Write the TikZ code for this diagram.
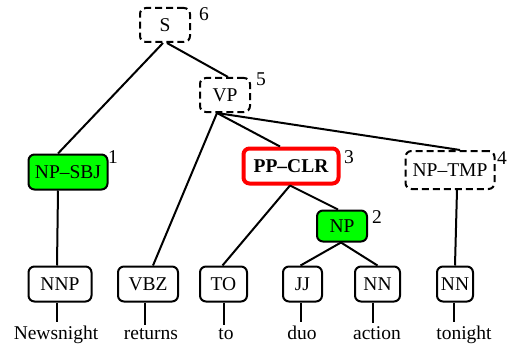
\documentclass[tikz,border=0pt]{standalone}
\usepackage{fontspec}
\setmainfont{Liberation Serif}
\begin{document}
\begin{tikzpicture}[x=1pt,y=-1pt,
  lbl/.style={font=\fontsize{19.5}{22}\selectfont},
  cat/.style={lbl, draw, line width=2pt, rounded corners=6pt, inner sep=0pt,
              minimum height=35pt},
  dashbox/.style={cat, dash pattern=on 7pt off 4pt},
  greenbox/.style={cat, fill=green},
  redbox/.style={cat, draw=red, line width=4pt, font=\fontsize{19.5}{22}\selectfont\bfseries},
  word/.style={lbl, inner xsep=0pt, inner ysep=3pt, anchor=base},
  num/.style={lbl, inner sep=0pt},
  edge/.style={line width=2pt}]

\fill[white] (0,0) rectangle (509,345);
\useasboundingbox (0,0) rectangle (509,345);

% phrase nodes
\node[dashbox, minimum width=50pt, minimum height=34pt] (S) at (165,25) {S};
\node[dashbox, minimum width=50pt, minimum height=34pt] (VP) at (225,95) {VP};
\node[greenbox, minimum width=79pt] (NPSBJ) at (68,172) {NP--SBJ};
\node[redbox, minimum width=95pt, minimum height=35pt] (PPCLR) at (291,166) {PP--CLR};
\node[dashbox, minimum width=89pt, minimum height=38pt] (NPTMP) at (450,170) {NP--TMP};
\node[greenbox, minimum width=50pt, minimum height=31pt] (NP) at (342,226) {NP};

% index numbers
\node[num] (n6) at (204,14) {6};
\node[num] (n5) at (261,79) {5};
\node[num] (n1) at (113,157) {1};
\node[num] (n3) at (349,157) {3};
\node[num] (n4) at (502,158) {4};
\node[num] (n2) at (377,217) {2};

% part-of-speech nodes
\node[cat, minimum width=63pt] (NNP) at (60,284) {NNP};
\node[cat, minimum width=60pt] (VBZ) at (148,284) {VBZ};
\node[cat, minimum width=47pt] (TO) at (223.5,284) {TO};
\node[cat, minimum width=39pt] (JJ) at (302.5,284) {JJ};
\node[cat, minimum width=45pt] (NNa) at (377.5,284) {NN};
\node[cat, minimum width=36pt] (NNb) at (455,284) {NN};

% words
\node[word] (w1) at (56,339) {Newsnight};
\node[word] (w2) at (151,339) {returns};
\node[word] (w3) at (226,339) {to};
\node[word] (w4) at (302,339) {duo};
\node[word] (w5) at (377,339) {action};
\node[word] (w6) at (464,339) {tonight};

% tree edges
\draw[edge] ([xshift=-2pt]S.south) -- ([xshift=-10pt]NPSBJ.north);
\draw[edge] ([xshift=2pt]S.south) -- ([xshift=3pt]VP.north);
\draw[edge] ([xshift=-8pt]VP.south) -- ([xshift=5pt]VBZ.north);
\draw[edge] ([xshift=-8pt]VP.south) -- ([xshift=-11pt]PPCLR.north);
\draw[edge] ([xshift=-8pt]VP.south) -- ([xshift=10pt]NPTMP.north);
\draw[edge] ([xshift=-10pt]NPSBJ.south) -- ([xshift=-3pt]NNP.north);
\draw[edge] ([xshift=-1pt]PPCLR.south) -- ([xshift=-1pt]TO.north);
\draw[edge] ([xshift=-1pt]PPCLR.south) -- ([xshift=-4pt]NP.north);
\draw[edge] ([xshift=-1pt]NP.south) -- ([xshift=-2pt]JJ.north);
\draw[edge] ([xshift=-1pt]NP.south) -- ([xshift=0pt]NNa.north);
\draw[edge] ([xshift=7pt]NPTMP.south) -- ([xshift=0pt]NNb.north);

% preterminal-to-word edges
\draw[edge] ([xshift=-3pt]NNP.south) -- ([xshift=-3pt]NNP.south |- w1.north);
\draw[edge] ([xshift=-3pt]VBZ.south) -- ([xshift=-3pt]VBZ.south |- w2.north);
\draw[edge] ([xshift=0pt]TO.south) -- ([xshift=0pt]TO.south |- w3.north);
\draw[edge] ([xshift=-2pt]JJ.south) -- ([xshift=-2pt]JJ.south |- w4.north);
\draw[edge] ([xshift=-5pt]NNa.south) -- ([xshift=-5pt]NNa.south |- w5.north);
\draw[edge] ([xshift=-1pt]NNb.south) -- ([xshift=-1pt]NNb.south |- w6.north);
\end{tikzpicture}
\end{document}
